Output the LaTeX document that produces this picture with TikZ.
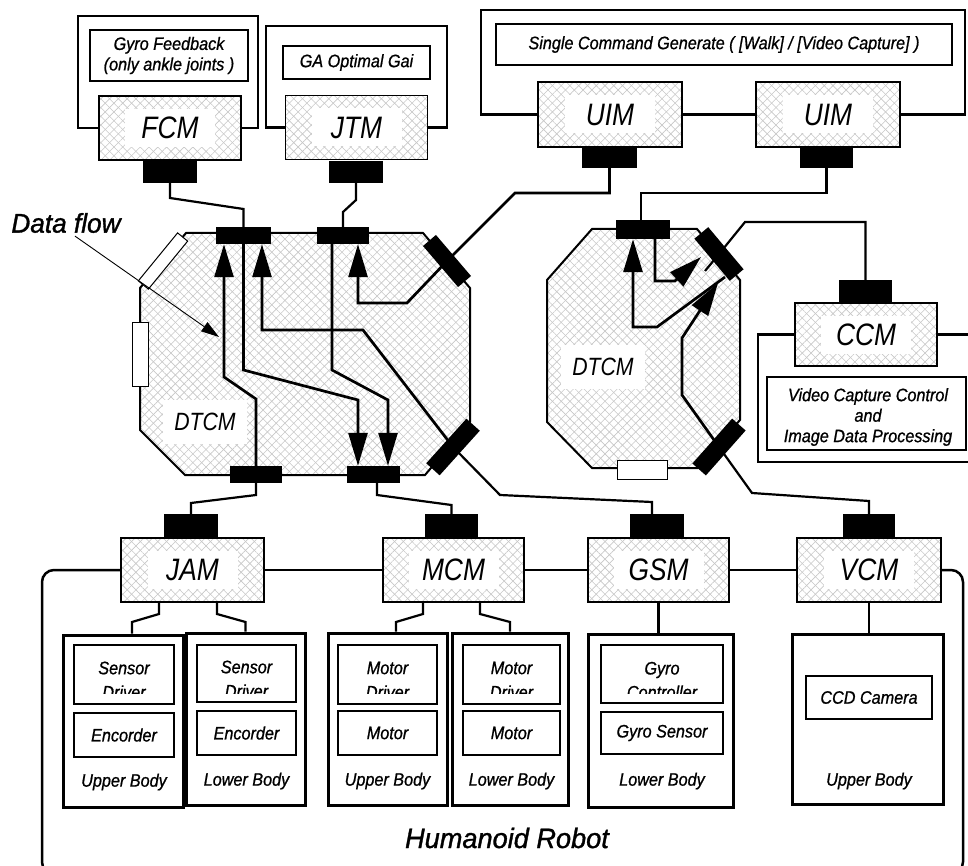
\documentclass[tikz,border=0pt]{standalone}
\usepackage{fontspec}
\setmainfont{Liberation Sans}
\newfontfamily\mf[FakeStretch=0.85]{Liberation Sans}
\newfontfamily\sfnt[FakeStretch=0.9,FakeBold=0.9]{Liberation Sans}
\newfontfamily\hf[FakeStretch=0.97,FakeBold=1.2]{Liberation Sans}
\usetikzlibrary{patterns.meta,arrows.meta}
\newcommand\fsz[1]{\fontsize{#1}{#1}\selectfont}
\tikzset{
  hatch/.style={preaction={pattern color=black!22, pattern={Lines[angle=45,distance=6.2pt,line width=0.6pt]}},
                preaction={pattern color=black!22, pattern={Lines[angle=-45,distance=6.2pt,line width=0.6pt]}}},
  mod/.style={draw, line width=1.4pt, minimum width=142pt, minimum height=64pt, inner sep=0pt, hatch},
  modlab/.style={fill=white, inner sep=0pt, minimum width=90pt, minimum height=38pt, font=\mf\itshape\fsz{31}},
  dlab/.style={fill=white, inner sep=0pt, minimum width=84pt, minimum height=44pt, font=\mf\itshape\fsz{25}},
  blk/.style={fill=black, inner sep=0pt, minimum width=54pt, minimum height=22pt},
  dblk/.style={fill=black, inner sep=0pt, minimum width=54pt, minimum height=18pt},
  wblk/.style={draw, fill=white, line width=1pt, inner sep=0pt},
  frm/.style={line width=2.5pt},
  tbox/.style={draw, line width=1.3pt, inner sep=0pt},
  sbox/.style={draw, line width=3pt, inner sep=0pt},
  conn/.style={line width=2.2pt},
  flow/.style={line width=2.7pt, -{Triangle[length=33pt,width=19pt]}},
  small/.style={font=\sfnt\itshape\fontsize{18}{20.5}\selectfont, align=center, inner sep=0pt},
}
\begin{document}
\begin{tikzpicture}[x=1pt,y=-1pt]
\useasboundingbox (0,0) rectangle (968,866);

% ---------- DTCM octagons ----------
\draw[line width=2pt, hatch] (186,233) -- (423,233) -- (470,288) -- (470,422) -- (425,475) -- (185,475) -- (140,430) -- (140,288) -- cycle;
\draw[line width=2pt, hatch] (592,229) -- (697,229) -- (740,280) -- (740,420) -- (698,468) -- (592,468) -- (547,422) -- (547,280) -- cycle;
\node[dlab] (dtcm1) at (205,422) {DTCM};
\node[dlab] (dtcm2) at (603,367) {DTCM};

% white parts on the DTCM outlines
\node[wblk, minimum width=62pt, minimum height=13pt, rotate=50.7] (wr1) at (163,261) {};
\node[wblk, minimum width=16pt, minimum height=64pt] (wr2) at (140.5,354) {};
\node[wblk, minimum width=50pt, minimum height=19pt] (wr3) at (642,469.5) {};

% ---------- top frames ----------
\node[mod] (fcm) at (170,128) {};
\node[modlab] at (fcm) {FCM};
\draw[frm] (fcm.west) -- (78,128) -- (78,16) -- (258,16) -- (258,128) -- (fcm.east);
\node[tbox, minimum width=158pt, minimum height=51pt] (gfb) at (169,55.5) {};
\node[small] at (gfb) {Gyro Feedback\\(only ankle joints )};

\node[mod] (jtm) at (356.5,127.5) {};
\node[modlab] at (jtm) {JTM};
\draw[frm] (jtm.west) -- (266,127.5) -- (266,26) -- (447,26) -- (447,127.5) -- (jtm.east);
\node[tbox, minimum width=147pt, minimum height=33pt] (gab) at (356.5,62.5) {};
\node[small] at (gab) {GA Optimal Gai};

\node[mod, minimum width=144pt, minimum height=65pt] (uim1) at (610,114.5) {};
\node[modlab] at (uim1) {UIM};
\node[mod, minimum width=144pt, minimum height=65pt] (uim2) at (828,114.5) {};
\node[modlab] at (uim2) {UIM};
\draw[frm] (uim1.west) -- (481,114.5) -- (481,10) -- (965,10) -- (965,114.5) -- (uim2.east);
\draw[frm] (uim1.east) -- (uim2.west);
\node[tbox, minimum width=456pt, minimum height=41pt] (scg) at (724,44.5) {};
\node[small] at (scg) {Single Command Generate ( [Walk] / [Video Capture] )};

% ---------- CCM ----------
\node[mod, minimum height=63pt] (ccm) at (866,334.5) {};
\node[modlab] at (ccm) {CCM};
\draw[frm] (ccm.west) -- (758,334.5) -- (758,462) -- (975,462);
\draw[frm] (ccm.east) -- (975,334.5);
\node[tbox, minimum width=199pt, minimum height=73pt] (vcc) at (866.5,413.5) {};
\node[small] at (868,417) {Video Capture Control\\and\\Image Data Processing};

% ---------- bottom modules ----------
\node[mod, minimum width=143pt] (jam) at (192.5,570) {};
\node[modlab] at (jam) {JAM};
\node[mod, minimum width=141pt] (mcm) at (453.5,570) {};
\node[modlab] at (mcm) {MCM};
\node[mod, minimum width=141pt] (gsm) at (658.5,570) {};
\node[modlab] at (gsm) {GSM};
\node[mod, minimum width=144pt] (vcm) at (869,570) {};
\node[modlab] at (vcm) {VCM};
\draw[conn] (jam.east) -- (mcm.west);
\draw[conn] (mcm.east) -- (gsm.west);
\draw[conn] (gsm.east) -- (vcm.west);
\draw[frm, rounded corners=12pt] (jam.west) -- (42,570) -- (42,874) -- (963,874) -- (963,570) -- (vcm.east);
\node[font=\hf\itshape\fsz{28}] (hr) at (507,838) {Humanoid Robot};

% ---------- sub boxes ----------
\node[sbox, minimum width=120pt, minimum height=172pt] (jam1) at (123,721) {};
\node[sbox, minimum width=119pt, minimum height=172pt] (jam2) at (245.5,719) {};
\node[sbox, minimum width=119pt, minimum height=172pt] (mcm1) at (387.5,719) {};
\node[sbox, minimum width=116pt, minimum height=172pt] (mcm2) at (510,719) {};
\node[sbox, minimum width=145pt, minimum height=173pt] (gsms) at (660.5,720.5) {};
\node[sbox, minimum width=151pt, minimum height=170pt] (vcms) at (867.5,719) {};

\node[tbox, minimum width=100pt, minimum height=59pt] (j1a) at (124,674.5) {};
\node[tbox, minimum width=100pt, minimum height=44pt] (j1b) at (124,735) {};
\node[tbox, minimum width=99pt, minimum height=57pt] (j2a) at (246.5,673.5) {};
\node[tbox, minimum width=99pt, minimum height=44pt] (j2b) at (246.5,733) {};
\node[tbox, minimum width=99pt, minimum height=59pt] (m1a) at (387.5,674.5) {};
\node[tbox, minimum width=99pt, minimum height=44pt] (m1b) at (387.5,733) {};
\node[tbox, minimum width=97pt, minimum height=59pt] (m2a) at (511.5,674.5) {};
\node[tbox, minimum width=97pt, minimum height=44pt] (m2b) at (511.5,733) {};
\node[tbox, minimum width=122pt, minimum height=58pt] (g1a) at (662,674) {};
\node[tbox, minimum width=122pt, minimum height=42pt] (g1b) at (662,733) {};
\node[tbox, minimum width=126pt, minimum height=43pt] (ccd) at (869,697.5) {};

\begin{scope}
  \clip (60,640) rectangle (740,693);
  \node[small] at (124,668) {Sensor};
  \node[small] at (124,692) {Driver};
  \node[small] at (246.5,667) {Sensor};
  \node[small] at (246.5,691) {Driver};
  \node[small] at (387.5,668) {Motor};
  \node[small] at (387.5,692) {Driver};
  \node[small] at (511.5,668) {Motor};
  \node[small] at (511.5,692) {Driver};
  \node[small] at (662,670) {Gyro};
  \node[small] at (662,692) {Controller};
\end{scope}
\node[small] at (j1b) {Encorder};
\node[small] at (j2b) {Encorder};
\node[small] at (m1b) {Motor};
\node[small] at (m2b) {Motor};
\node[small] at (g1b) {Gyro Sensor};
\node[small] at (ccd) {CCD Camera};
\node[small] at (124,782) {Upper Body};
\node[small] at (246.5,781) {Lower Body};
\node[small] at (387.5,781) {Upper Body};
\node[small] at (511.5,781) {Lower Body};
\node[small] at (662,781) {Lower Body};
\node[small] at (869,781) {Upper Body};

\draw[conn] ([xshift=-33.5pt]jam.south) -- (159,614) -- (132,622) -- ([xshift=9pt]jam1.north);
\draw[conn] ([xshift=24.5pt]jam.south) -- (217,614) -- (245.5,622) -- (jam2.north);
\draw[conn] ([xshift=-30.5pt]mcm.south) -- (423,614) -- (396,622) -- ([xshift=8.5pt]mcm1.north);
\draw[conn] ([xshift=26.5pt]mcm.south) -- (480,614) -- (510,622) -- (mcm2.north);
\draw[conn] (gsm.south) -- ([xshift=-2pt]gsms.north);
\draw[conn] (vcm.south) -- ([xshift=1.5pt]vcms.north);

% ---------- black connector blocks ----------
\node[blk] (fcmb) at (170,172) {};
\node[blk] (jtmb) at (356,172) {};
\node[blk, minimum width=55pt, minimum height=21pt] (uimb1) at (609.5,157.5) {};
\node[blk, minimum width=53pt, minimum height=21pt] (uimb2) at (826.5,157.5) {};
\node[blk, minimum width=53pt] (ccmb) at (865.5,291) {};
\node[blk, minimum height=23pt] (jamb) at (191,525.5) {};
\node[blk, minimum width=53pt, minimum height=23pt] (mcmb) at (451.5,525.5) {};
\node[blk, minimum height=23pt] (gsmb) at (657,525.5) {};
\node[blk, minimum width=52pt, minimum height=23pt] (vcmb) at (869,525.5) {};

\node[dblk, minimum width=55pt, minimum height=17pt] (b1) at (243.5,235.5) {};
\node[dblk, minimum width=52pt, minimum height=17pt] (b2) at (343,235.5) {};
\node[dblk, minimum width=52pt, minimum height=17pt] (b3) at (256,474.5) {};
\node[dblk, minimum width=53pt, minimum height=17pt] (b4) at (373.5,474.5) {};
\node[dblk, rotate=-49.5, minimum width=54pt, minimum height=17pt] (bd1) at (447,261) {};
\node[dblk, rotate=48, minimum width=60pt, minimum height=18pt] (bd2) at (453,447) {};
\node[dblk, minimum width=54pt, minimum height=19pt] (rt) at (643,229.5) {};
\node[dblk, rotate=-50, minimum width=55pt, minimum height=18pt] (rd1) at (719,254) {};
\node[dblk, rotate=48.5, minimum width=60pt, minimum height=18pt] (rd2) at (719,447) {};

% ---------- connectors outside the DTCMs ----------
\draw[conn] (fcmb.south) -- (170,198) -- (243.5,209) -- (b1.north);
\draw[conn] (jtmb.south) -- (356,200) -- (343,212) -- (b2.north);
\draw[conn] (uimb2.south) -- (826.5,193) -- (641,193) -- ([xshift=-2pt]rt.north);
\coordinate (ccmend) at (705,271);
\draw[conn] (ccmb.north) -- (865.5,222) -- (745,222) -- (rd1.center) -- (ccmend);
\draw[conn] (b3.south) -- (256,495) -- (191,503) -- (jamb.north);
\draw[conn] ([xshift=3.5pt]b4.south) -- (377,495) -- (451.5,505) -- (mcmb.north);
\draw[conn] (bd2.center) -- (500,495) -- (652,502) -- ([xshift=-5pt]gsmb.north);
\draw[conn] (rd2.center) -- (752,493) -- (869,501) -- (vcmb.north);

% ---------- data flow arrows, left DTCM ----------
\draw[flow] (b3.north) -- (256,399) -- (224,377) -- ([xshift=-19.5pt]b1.south);
\draw[flow] (b1.south) -- (243.5,370) -- (358,400) -- ([xshift=-15.5pt]b4.north);
\draw[flow] (bd2.center) -- (363,330) -- (262,330) -- ([xshift=18.5pt]b1.south);
\draw[flow] ([xshift=-11pt]b2.south) -- (332,370) -- (388,400) -- ([xshift=14.5pt]b4.north);
\draw[flow] (uimb1.south) -- (609.5,193) -- (515,193) -- (bd1.center) -- (407,303) -- (358,303) -- ([xshift=15pt]b2.south);

% ---------- data flow arrows, right DTCM ----------
\coordinate (r1s) at (725,277);
\coordinate (r2t) at (701,257);
\coordinate (r3t) at (718,283);
\draw[flow] (r1s) -- (657,327) -- (633,327) -- ([xshift=-10pt]rt.south);
\draw[flow] ([xshift=12pt]rt.south) -- (655,281) -- (675,281) -- (r2t);
\draw[flow] (rd2.center) -- (682,395) -- (682,338) -- (r3t);

% ---------- Data flow label ----------
\node[font=\hf\itshape\fsz{27}, inner sep=0pt] (df) at (66,223) {Data flow};
\coordinate (dft) at (219,337);
\draw[line width=0.9pt, -{Triangle[length=18pt,width=11pt]}] ([xshift=9pt,yshift=-3pt]df.south) -- (dft);
\end{tikzpicture}
\end{document}
